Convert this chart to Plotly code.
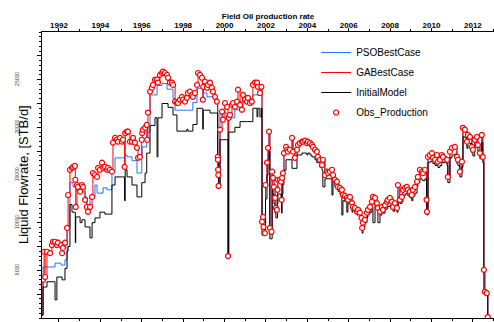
import plotly.graph_objects as go

years = [
 1991.18, 1991.23, 1991.28, 1991.33, 1991.42, 1991.57, 1991.66, 1991.71, 1991.81, 1991.90,
 1991.95, 1992.10, 1992.15, 1992.19, 1992.29, 1992.39, 1992.44, 1992.53, 1992.63, 1992.68,
 1992.77, 1992.79, 1992.81, 1992.87, 1992.92, 1993.02, 1993.11, 1993.16, 1993.26, 1993.35,
 1993.40, 1993.50, 1993.60, 1993.64, 1993.74, 1993.84, 1993.89, 1993.98, 1994.08, 1994.13,
 1994.22, 1994.32, 1994.37, 1994.46, 1994.56, 1994.61, 1994.71, 1994.80, 1994.85, 1994.95,
 1995.04, 1995.09, 1995.17, 1995.20, 1995.29, 1995.33, 1995.43, 1995.53, 1995.58, 1995.67,
 1995.77, 1995.82, 1995.91, 1996.00, 1996.02, 1996.06, 1996.16, 1996.24, 1996.26, 1996.30,
 1996.40, 1996.49, 1996.54, 1996.64, 1996.74, 1996.78, 1996.88, 1996.98, 1997.03, 1997.12,
 1997.22, 1997.27, 1997.36, 1997.46, 1997.51, 1997.61, 1997.70, 1997.75, 1997.85, 1997.94,
 1997.99, 1998.09, 1998.18, 1998.23, 1998.33, 1998.43, 1998.47, 1998.57, 1998.67, 1998.72,
 1998.81, 1998.91, 1998.95, 1998.97, 1999.05, 1999.15, 1999.20, 1999.30, 1999.39, 1999.44,
 1999.54, 1999.63, 1999.67, 1999.68, 1999.69, 1999.70, 1999.71, 1999.78, 1999.88, 1999.92,
 2000.02, 2000.12, 2000.17, 2000.20, 2000.26, 2000.36, 2000.41, 2000.50, 2000.60, 2000.65,
 2000.75, 2000.84, 2000.89, 2000.99, 2001.08, 2001.13, 2001.23, 2001.32, 2001.37, 2001.47,
 2001.57, 2001.61, 2001.71, 2001.78, 2001.81, 2001.86, 2001.88, 2001.95, 2001.98, 2002.05,
 2002.10, 2002.15, 2002.19, 2002.27, 2002.30, 2002.34, 2002.39, 2002.44, 2002.48, 2002.53,
 2002.56, 2002.58, 2002.68, 2002.73, 2002.76, 2002.78, 2002.82, 2002.87, 2002.97, 2003.02,
 2003.06, 2003.16, 2003.26, 2003.31, 2003.40, 2003.50, 2003.55, 2003.64, 2003.74, 2003.79,
 2003.89, 2003.98, 2004.03, 2004.13, 2004.22, 2004.27, 2004.37, 2004.46, 2004.51, 2004.61,
 2004.71, 2004.75, 2004.85, 2004.95, 2005.00, 2005.09, 2005.19, 2005.24, 2005.33, 2005.43,
 2005.48, 2005.58, 2005.67, 2005.72, 2005.82, 2005.91, 2005.96, 2006.06, 2006.16, 2006.20,
 2006.30, 2006.40, 2006.45, 2006.54, 2006.62, 2006.65, 2006.69, 2006.78, 2006.88, 2006.93,
 2007.03, 2007.12, 2007.17, 2007.27, 2007.36, 2007.41, 2007.51, 2007.60, 2007.65, 2007.75,
 2007.85, 2007.89, 2007.99, 2008.09, 2008.14, 2008.23, 2008.33, 2008.38, 2008.47, 2008.57,
 2008.62, 2008.72, 2008.81, 2008.86, 2008.96, 2009.05, 2009.10, 2009.20, 2009.30, 2009.34,
 2009.44, 2009.54, 2009.59, 2009.68, 2009.76, 2009.78, 2009.83, 2009.92, 2010.02, 2010.07,
 2010.17, 2010.26, 2010.31, 2010.41, 2010.50, 2010.55, 2010.75, 2010.79, 2010.89, 2010.99,
 2011.13, 2011.23, 2011.28, 2011.37, 2011.47, 2011.52, 2011.61, 2011.71, 2011.76, 2011.86,
 2011.95, 2012.00, 2012.09, 2012.19, 2012.24, 2012.34, 2012.43, 2012.48, 2012.53, 2012.58,
 2012.67, 2012.72]

obs_production = [
 None, 4000, 6950, 4300, 6950, 6800, 7650, 8000, 8000, 7650,
 7900, 7650, 6800, 7350, 7900, 9450, 12900, 15550, 15750, 15850,
 15950, 14500, 11650, 13950, 13750, 13250, 13950, 13750, 12400, 11650,
 11150, 11650, 12700, 15200, 15000, 14800, 15750, 15550, 16300, 15750,
 15850, 15550, 15750, 15550, 15350, 18400, 18900, 18700, 18500, 18900,
 18500, 18700, 15850, 19400, 19550, 19550, 18500, 18500, 18900, 18400,
 17850, 16800, 16900, 18700, 19400, 19750, 19950, 20250, 18700, 21550,
 23750, 24150, 24450, 25000, 25000, 24700, 25500, 25700, 25850, 25700,
 25500, 25200, 24700, 24700, 24450, 22700, 22550, 22550, 22900, 23200,
 22900, 22700, 23100, 23600, 23750, 23400, 23200, 23600, 24450, 25700,
 25500, 25200, 22900, 24250, 24800, 24150, 24450, 24700, 24150, 23750,
 23200, 22700, 16900, 16600, 15550, 15000, 13850, 19750, 21650, 20800,
 22550, 22150, 6500, 21000, 21300, 22350, 22550, 22150, 22700, 23950,
 22350, 21850, 23400, 22900, 22700, 23100, 22550, 22700, 24450, 24700,
 24700, 24250, 23600, 24250, 10100, 10600, 9550, 8900, 13950, 16300,
 17850, 19550, 9450, 9050, 15350, 14700, 13750, 12600, 11550, 11350,
 13450, 14500, 14500, 14300, 12400, 14700, 15200, 17300, 17950, 17650,
 17450, 17650, 18900, 17450, 16800, 17650, 18150, 18350, 18500, 18500,
 18600, 18350, 18500, 18350, 18150, 17950, 17650, 17450, 16900, 16600,
 16050, 16600, 15000, 15350, 15200, 15350, 15550, 15000, 14500, 14300,
 13750, 13650, 13450, 12900, 12800, 12600, 12400, 12700, 12050, 11650,
 11550, 11150, 11350, 11050, 10500, 9450, 10000, 10300, 11050, 11350,
 11650, 12200, 12700, 12600, 12050, 11550, 11150, 11650, 11350, 11850,
 12200, 12400, 12600, 12200, 11650, 12050, 11550, 13950, 12400, 12700,
 13450, 13650, 13750, 13450, 13250, 12900, 13450, 13750, 14300, 14800,
 15550, 15350, 15200, 15550, 12400, 11150, 16900, 17100, 17300, 16800,
 16600, 17100, 16400, 16600, 17100, 16900, 16600, 14800, 17450, 17850,
 17950, 16900, 16600, 15350, 16400, 19950, 19750, 18500, 19200, 19000,
 17950, 17650, 18700, 19000, 18150, 17300, 19200, 16900, 5050, 2750,
 2600, 100]

ga_best_case = [
 300, 4000, 6950, 4300, 6950, 6800, 7650, 8000, 8000, 7650,
 7900, 7650, 6800, 7350, 7900, 9450, 12900, 15550, 15750, 15850,
 15950, 14500, 11650, 13950, 13750, 13250, 13950, 13750, 12400, 11650,
 11150, 11650, 12700, 15200, 15000, 14800, 15750, 15550, 16300, 15750,
 15850, 15550, 15750, 15550, 15350, 18400, 18900, 18700, 18500, 18900,
 18500, 18700, 15850, 19400, 19550, 19550, 18500, 18500, 18900, 18400,
 17850, 16800, 16900, 18700, 19400, 19750, 19950, 20250, 18700, 21550,
 23750, 24150, 24450, 25000, 25000, 24700, 25500, 25700, 25850, 25700,
 25500, 25200, 24700, 24700, 24450, 22700, 22550, 22550, 22900, 23200,
 22900, 22700, 23100, 23600, 23750, 23400, 23200, 23600, 24450, 25700,
 25500, 25200, 22900, 24250, 24800, 24150, 24450, 24700, 24150, 23750,
 23200, 22700, 16900, 16600, 15550, 15000, 13850, 19750, 21650, 20800,
 22550, 22150, 6500, 21000, 21300, 22350, 22550, 22150, 22700, 23950,
 22350, 21850, 23400, 22900, 22700, 23100, 22550, 22700, 24450, 24700,
 24700, 24250, 23600, 24250, 10100, 10600, 9550, 8900, 13950, 16300,
 17850, 19550, 9450, 9050, 15350, 14700, 13750, 12600, 11550, 11350,
 13450, 14500, 14500, 14300, 12400, 14700, 15200, 17300, 17950, 17650,
 17450, 17650, 18900, 17450, 16800, 17650, 18150, 18350, 18500, 18500,
 18600, 18350, 18500, 18350, 18150, 17950, 17650, 17450, 16900, 16600,
 16050, 16600, 15000, 15350, 15200, 15350, 15550, 15000, 14500, 14300,
 13750, 13650, 13450, 12900, 12800, 12600, 12400, 12700, 12050, 11650,
 11550, 11150, 11350, 11050, 10500, 9450, 10000, 10300, 11050, 11350,
 11650, 12200, 12700, 12600, 12050, 11550, 11150, 11650, 11350, 11850,
 12200, 12400, 12600, 12200, 11650, 12050, 11550, 13950, 12400, 12700,
 13450, 13650, 13750, 13450, 13250, 12900, 13450, 13750, 14300, 14800,
 15550, 15350, 15200, 15550, 12400, 11150, 16900, 17100, 17300, 16800,
 16600, 17100, 16400, 16600, 17100, 16900, 16600, 14800, 17450, 17850,
 17950, 16900, 16600, 15350, 16400, 19950, 19750, 18500, 19200, 19000,
 17950, 17650, 18700, 19000, 18150, 17300, 19200, 16900, 5050, 2750,
 2600, 100]

pso_best_case = [
 300, 5350, 5350, 5350, 5350, 5350, 5350, 5350, 5750, 5750,
 5750, 5550, 5550, 5550, 6100, 9500, 9500, 14200, 14200, 13750,
 13750, 13750, 13750, 13250, 13250, 13250, 13250, 13250, 12700, 11550,
 11550, 12700, 12700, 12700, 13950, 13100, 13100, 13100, 13100, 13650,
 13650, 13450, 13450, 13450, 15450, 15450, 16800, 16800, 16800, 16800,
 16800, 16800, 17100, 17100, 16900, 16900, 16900, 16500, 16500, 16500,
 15200, 15200, 15200, 16900, 17950, 17950, 17950, 19500, 19500, 19500,
 23400, 23400, 23400, 23400, 24400, 24400, 24400, 24600, 24600, 24600,
 24000, 24000, 24000, 24000, 23000, 21800, 21800, 21800, 21800, 21800,
 21800, 21800, 21800, 21800, 21800, 21800, 22600, 22600, 24100, 24100,
 24100, 24100, 24100, 23600, 23600, 23200, 23200, 23200, 23200, 23200,
 22600, 22600, 16900, 16600, 15550, 15000, 13850, 21500, 21500, 21500,
 21500, 21000, 6500, 21000, 21000, 21000, 21000, 21850, 21850, 21850,
 22700, 22700, 22700, 22700, 22700, 22700, 22700, 22700, 23400, 23400,
 23400, 23400, 23400, 23400, 10100, 10600, 9550, 8900, 13950, 16300,
 17850, 19550, 9450, 9050, 15350, 14700, 13750, 12600, 11550, 11350,
 13450, 14500, 14500, 14300, 12400, 14700, 15200, 17300, 17950, 17650,
 17450, 17650, 18900, 17450, 16800, 17650, 18150, 18350, 18500, 18500,
 18600, 18350, 18500, 18350, 18150, 17950, 17650, 17450, 16900, 16600,
 16050, 16600, 15000, 15350, 15200, 15350, 15550, 15000, 14500, 14300,
 13750, 13650, 13450, 12900, 12800, 12600, 12400, 12700, 12050, 11650,
 11550, 11150, 11350, 11050, 10500, 9450, 10000, 10300, 11050, 11350,
 11650, 12200, 12700, 12600, 12050, 11550, 11150, 11650, 11350, 11850,
 12200, 12400, 12600, 12200, 11650, 12050, 11550, 13950, 12400, 12700,
 13450, 13650, 13750, 13450, 13250, 12900, 13450, 13750, 14300, 14800,
 15550, 15350, 15200, 15550, 12400, 11150, 16900, 17100, 17300, 16800,
 16600, 17100, 16400, 16600, 17100, 16900, 16600, 14800, 17450, 17850,
 17950, 16900, 16600, 15350, 16400, 19950, 19750, 18500, 19200, 19000,
 17950, 17650, 18700, 19000, 18150, 17300, 19200, 16900, 5050, 2750,
 2600, 100]

initial_model = [
 300, 3250, 3250, 3250, 3800, 3800, 3800, 3800, 1900, 4300,
 4300, 4300, 4000, 4000, 5200, 7000, 7500, 11900, 11100, 11100,
 11100, 7900, 10600, 10600, 10600, 10000, 10300, 10300, 9550, 9550,
 9550, 8400, 10000, 10000, 10500, 10500, 10500, 11100, 11100, 11100,
 10900, 10900, 10900, 10900, 13950, 13950, 14800, 14800, 14800, 14800,
 14800, 14800, 12300, 15550, 14800, 14800, 14800, 13950, 13950, 13950,
 12700, 12700, 12700, 14200, 14200, 14200, 15200, 17300, 17300, 17300,
 20200, 20200, 20200, 21000, 16900, 21000, 21000, 22500, 22500, 22500,
 22500, 22100, 22100, 22100, 21300, 21300, 19600, 19600, 19600, 19600,
 19600, 19600, 19800, 19600, 19600, 19600, 20300, 20300, 22000, 22000,
 22000, 22000, 19800, 21800, 21800, 21800, 21800, 21500, 21500, 21500,
 21500, 21500, 16900, 16600, 15550, 15000, 13850, 18700, 18700, 18700,
 18700, 18700, 6400, 19500, 19500, 19500, 19500, 20000, 20000, 20000,
 20600, 20600, 20600, 20600, 20600, 20600, 20600, 20600, 22000, 22000,
 21100, 22000, 21100, 22000, 8700, 8700, 8700, 8700, 12500, 15000,
 16500, 17500, 8300, 8300, 13500, 13000, 12000, 11000, 10500, 10500,
 12000, 13000, 13000, 12500, 11000, 13000, 14000, 15500, 16600, 16600,
 16600, 16600, 15700, 15700, 15700, 17100, 17100, 17100, 17300, 17300,
 17300, 17100, 17300, 17100, 16900, 16900, 16600, 16300, 16300, 15800,
 15500, 13750, 14600, 14600, 14600, 14600, 12900, 14400, 13800, 13500,
 13300, 13000, 10800, 12300, 12200, 11100, 12000, 12200, 11100, 11300,
 11000, 10800, 10900, 10600, 10000, 8900, 9600, 10000, 10600, 10900,
 11100, 11600, 10000, 12000, 11500, 10000, 10800, 11200, 11000, 11400,
 11500, 11700, 11800, 11600, 11200, 11500, 11100, 12600, 12000, 12200,
 12800, 13000, 13100, 12800, 12600, 12300, 12800, 13100, 13700, 14200,
 14600, 14500, 14400, 14600, 11800, 10800, 16300, 16400, 16500, 16200,
 16000, 16400, 15800, 16000, 16400, 16300, 16000, 14200, 16800, 17100,
 17200, 16200, 16000, 14800, 15800, 19000, 18900, 17800, 18400, 18300,
 17300, 17000, 18000, 18300, 17500, 16700, 18400, 16300, 2900, 2700,
 2500, 100]

year_ticks = [1992, 1994, 1996, 1998, 2000, 2002, 2004, 2006, 2008, 2010, 2012]
rate_ticks = [2500, 5000, 7500, 10000, 12500, 15000, 17500, 20000, 22500, 25000, 27500]
rate_labels = ["", "5000", "", "10000", "", "15000", "", "20000", "", "25000", ""]

FONT = "Liberation Sans, Arial, sans-serif"

fig = go.Figure()
fig.add_trace(go.Scatter(x=years, y=pso_best_case, name="PSOBestCase", mode="lines",
                         line=dict(color="#1f74ff", width=1, shape="hv"), legendgroup="a"))
fig.add_trace(go.Scatter(x=years, y=ga_best_case, name="GABestCase", mode="lines",
                         line=dict(color="#ff0000", width=1, shape="hv"), legendgroup="b"))
fig.add_trace(go.Scatter(x=years, y=initial_model, name="InitialModel", mode="lines",
                         line=dict(color="#000000", width=1, shape="hv"), legendgroup="c"))
fig.add_trace(go.Scatter(x=years, y=obs_production, name="Obs_Production", mode="markers",
                         marker=dict(symbol="circle", size=5, color="white",
                                     line=dict(color="#ff0000", width=1.2)),
                         legendgroup="d"))

fig.update_layout(
    width=494, height=322,
    margin=dict(l=42, r=0, t=32, b=4),
    paper_bgcolor="white", plot_bgcolor="white",
    font=dict(family=FONT, color="black"),
    showlegend=True,
    title=dict(text="<b>Field Oil production rate</b>", font=dict(size=8, family=FONT),
               x=0.5, xref="paper", xanchor="center",
               y=1 - 16 / 322, yref="container", yanchor="middle"),
    legend=dict(x=0.6065, y=0.979, xanchor="left", yanchor="top",
                bgcolor="rgba(0,0,0,0)", font=dict(size=10, family=FONT),
                traceorder="grouped", tracegroupgap=1),
    xaxis=dict(range=[1991.18, 2013.02], side="top",
               tickvals=year_ticks, ticktext=[str(y) for y in year_ticks],
               tickfont=dict(size=8, family=FONT, weight="bold"),
               ticks="outside", ticklen=3, tickwidth=1, tickcolor="black",
               ticklabelstandoff=-3,
               minor=dict(dtick=1, tick0=1991, ticks="outside", ticklen=2, tickcolor="black"),
               showline=True, linewidth=1.2, linecolor="black", mirror="ticks",
               showgrid=False, zeroline=False),
    yaxis=dict(range=[0, 30000],
               tickvals=rate_ticks, ticktext=rate_labels, tickangle=-90,
               tickfont=dict(size=5, family=FONT, color="#333333"),
               ticks="outside", ticklen=4, tickwidth=1, tickcolor="black",
               ticklabelstandoff=16,
               minor=dict(dtick=500, ticks="outside", ticklen=2, tickcolor="black"),
               showline=True, linewidth=1.2, linecolor="black",
               showgrid=False, zeroline=False),
    annotations=[dict(text="Liquid Flowrate, [STB/d]", xref="paper", yref="paper",
                      x=-19 / 452, y=0.5, xanchor="center", yanchor="middle",
                      textangle=-90, showarrow=False,
                      font=dict(size=13, family=FONT, color="black"))],
)

fig.write_html("out.html", config={"displayModeBar": False})
